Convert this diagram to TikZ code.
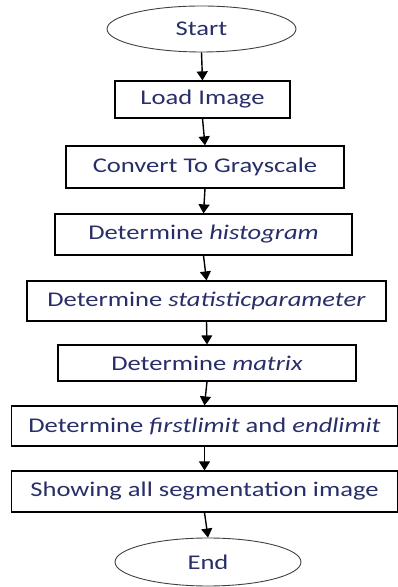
\documentclass[tikz,border=0pt]{standalone}
\usepackage{fontspec}
\setmainfont{Carlito}[FakeStretch=1.27]
\usetikzlibrary{shapes.geometric,arrows.meta}
\definecolor{textblue}{RGB}{40,46,104}
\tikzset{
  stepbox/.style={draw,line width=1.2bp,text=textblue,inner sep=0pt,font=\fontsize{21}{24}\selectfont},
  termbox/.style={stepbox,ellipse,line width=0.9bp,draw=black!75},
  flow/.style={-{Triangle[length=9bp,width=11bp]},line width=1.4bp}
}
\begin{document}
\begin{tikzpicture}[x=1bp,y=1bp]
      \useasboundingbox (0,0) rectangle (397,587);
      \node(start)[termbox,minimum width=189bp,minimum height=46bp] at (201.5,558) {Start};
      \foreach \n/\x/\y/\w/\h/\t in{
        load/202.5/487.5/175/37/{Load Image},
        gray/205/420/278/42/{Convert To Grayscale},
        hist/203.5/352.5/297/41/{Determine \textit{histogram}},
        stat/206.5/286/359/40/{Determine \textit{statisticparameter}},
        matr/207/224/298/36/{Determine \textit{matrix}},
        limt/204.5/161/386/40/{Determine \textit{firstlimit} and \textit{endlimit}},
        show/204.5/95.5/386/41/{Showing all segmentation image}}{
        \node(\n)[stepbox,minimum width=\w bp,minimum height=\h bp] at (\x,\y) {\t};
      }
      \node(end)[termbox,minimum width=186bp,minimum height=48bp] at (208,25) {End};
      \foreach \a/\b in{start/load, load/gray, gray/hist, hist/stat, stat/matr, matr/limt, limt/show, show/end}{
        \draw[flow](\a.south)--(\b.north);
      }
\end{tikzpicture}
\end{document}
